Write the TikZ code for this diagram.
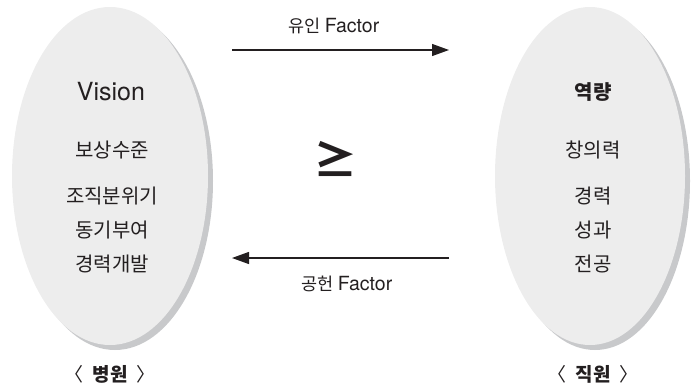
\documentclass[tikz,border=0pt]{standalone}
\usepackage{fontspec}
\setmainfont{Noto Sans CJK KR}
\newfontfamily\latf{TeX Gyre Heros}
\usetikzlibrary{arrows.meta}
\definecolor{ellfill}{HTML}{EDEDED}
\definecolor{ellshadow}{HTML}{C8C9CB}
\definecolor{ink}{HTML}{231F20}
\tikzset{
  ellbody/.style={fill=ellfill, draw=none},
  ellshade/.style={fill=ellshadow, draw=none},
  ktext/.style={font=\fontsize{20}{22}\selectfont, text=ink, inner sep=0pt},
  captext/.style={font=\fontsize{19}{21}\selectfont, text=ink, inner sep=0pt},
  ftext/.style={font=\fontsize{17.5}{19}\selectfont, text=ink, inner sep=0pt},
  flow/.style={line width=1.3pt, draw=ink, -{Triangle[length=17pt,width=12pt]}},
}
\newcommand{\facword}{{\fontsize{19.5}{21}\latf Factor}}
\newcommand{\capt}[1]{〈\hspace{9pt}{\bfseries #1}\hspace{9pt}〉}
\begin{document}
\begin{tikzpicture}[x=1pt,y=-1pt]
\useasboundingbox (0,0) rectangle (693,388);
% left ellipse
\fill[ellshade] (115,181) ellipse [x radius=98, y radius=169];
\fill[ellbody] (110,176) ellipse [x radius=98, y radius=169];
% right ellipse
\fill[ellshade] (595,181) ellipse [x radius=95, y radius=169];
\fill[ellbody] (590,176) ellipse [x radius=95, y radius=169];

\node[ktext, font=\fontsize{25}{27}\latf] (vision) at (111,92) {Vision};
\node[ktext] (l1) at (112,150) {보상수준};
\node[ktext] (l2) at (112,196) {조직분위기};
\node[ktext] (l3) at (112,230) {동기부여};
\node[ktext] (l4) at (112,264) {경력개발};
\node[captext] (lcap) at (110,374) {\capt{병원}};

\node[ktext, font=\fontsize{20}{22}\selectfont\bfseries] (cap) at (593,92) {역량};
\node[ktext] (r1) at (593,150) {창의력};
\node[ktext] (r2) at (593,196) {경력};
\node[ktext] (r3) at (593,230) {성과};
\node[ktext] (r4) at (593,264) {전공};
\node[captext] (rcap) at (593,374) {\capt{직원}};

\coordinate (tl) at (232,50);
\coordinate (tr) at (449,50);
\coordinate (bl) at (232,258);
\coordinate (br) at (449,258);
\draw[flow] (tl) -- (tr);
\draw[flow] (br) -- (bl);
\node[ftext] (fin) at (334,26) {유인 \facword};
\node[ftext] (fout) at (347,284) {공헌 \facword};
\node[inner sep=0pt, font=\fontsize{44}{44}\selectfont\bfseries, text=ink] (ge) at (335,159) {≥};
\end{tikzpicture}
\end{document}
